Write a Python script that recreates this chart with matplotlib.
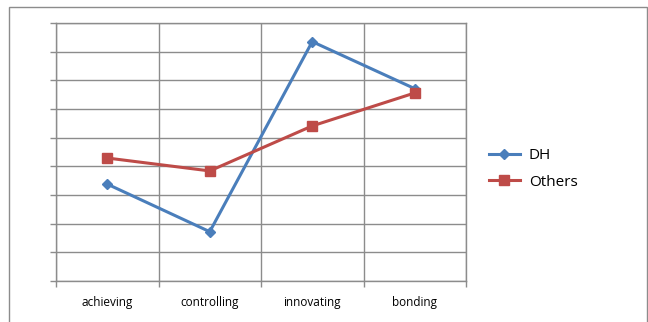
import matplotlib
matplotlib.use("Agg")
import matplotlib.pyplot as plt
from matplotlib.patches import Rectangle

plt.rcParams['font.family'] = ['Open Sans', 'DejaVu Sans']

categories = ['achieving', 'controlling', 'innovating', 'bonding']
dh = [3.38, 1.72, 8.35, 6.71]
others = [4.29, 3.84, 5.41, 6.56]

blue = '#4A7EBB'
red = '#BE4B48'
grid_col = '#8C8C8C'

fig = plt.figure(figsize=(6.48, 3.22), dpi=100)
ax = fig.add_axes([56/648, 41/322, 410/648, 258/322])

x = [i + 0.5 for i in range(len(categories))]
ax.plot(x, dh, color=blue, lw=2.2, marker='D', ms=5.5, mfc=blue, mec=blue, label='DH')
ax.plot(x, others, color=red, lw=2.2, marker='s', ms=7, mfc=red, mec=red, label='Others')

ax.set_xlim(0, 4)
ax.set_ylim(0, 9)
ax.set_yticks(range(10))
ax.set_yticklabels([])
ax.set_xticks(range(5))
ax.set_xticklabels([])
ax.set_xticks(x, minor=True)
ax.set_xticklabels(categories, minor=True, fontsize=8.5)
ax.tick_params(axis='x', which='minor', length=0, pad=11)
ax.tick_params(axis='both', which='major', length=4, color=grid_col, width=1)
ax.grid(True, which='major', color=grid_col, lw=1)
ax.set_axisbelow(True)
for s in ax.spines.values():
    s.set_color(grid_col)
    s.set_linewidth(1)

ax.legend(loc='center left', bbox_to_anchor=(1.056, 0.434), frameon=False, borderpad=0,
          borderaxespad=0, fontsize=11, handlelength=2.0, handletextpad=0.6, labelspacing=0.75)

# outer chart frame
fig.patches.append(Rectangle((9/648, -0.05), 638/648, 1.05 - 7/322, transform=fig.transFigure,
                             fill=False, edgecolor='#8C8C8C', lw=1))

fig.savefig('out.png', dpi=100)
